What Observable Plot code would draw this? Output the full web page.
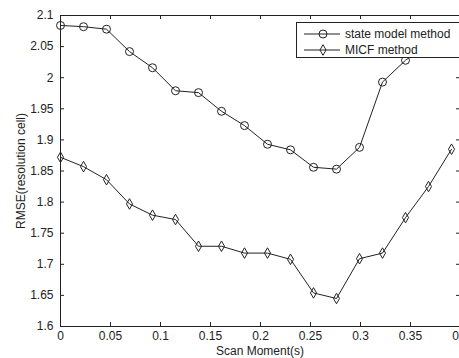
<!DOCTYPE html>
<html>
<head>
<meta charset="utf-8">
<script src="https://cdn.jsdelivr.net/npm/d3@7"></script>
<script src="https://cdn.jsdelivr.net/npm/@observablehq/plot@0.6"></script>
<style>
  html, body { margin: 0; padding: 0; background: white; overflow: hidden; }
  #wrap { position: relative; width: 459px; height: 358px; overflow: hidden; font-family: "Liberation Sans", Arial, sans-serif; }
  #legend { position: absolute; left: 296px; top: 22px; width: 170px; height: 36px; border: 1px solid #222; background: white; box-sizing: border-box; }
  #legend .row { position: absolute; left: 0; height: 16px; display: flex; align-items: center; }
  #legend span { font-size: 12px; color: #222; margin-left: 5px; }
</style>
</head>
<body>
<div id="wrap"></div>
<script>
const scanMoment = [0, 0.023, 0.046, 0.069, 0.092, 0.115, 0.138, 0.161, 0.184, 0.207, 0.23, 0.253, 0.276, 0.299, 0.322, 0.345, 0.368, 0.391];
const stateModel = [2.084, 2.082, 2.078, 2.042, 2.016, 1.979, 1.976, 1.946, 1.923, 1.893, 1.884, 1.856, 1.853, 1.888, 1.993, 2.028, 2.055, 2.080];
const micf = [1.872, 1.857, 1.836, 1.797, 1.779, 1.772, 1.729, 1.729, 1.718, 1.718, 1.708, 1.654, 1.645, 1.709, 1.718, 1.775, 1.825, 1.885];
const seriesNames = ["state model method", "MICF method"];
const xTicks = [0, 0.05, 0.1, 0.15, 0.2, 0.25, 0.3, 0.35, 0.4];
const yTicks = [1.6, 1.65, 1.7, 1.75, 1.8, 1.85, 1.9, 1.95, 2, 2.05, 2.1];
const xDomain = [0, 0.4];
const yDomain = [1.6, 2.1];

const sData = scanMoment.map((x, i) => ({x, y: stateModel[i]}));
const mData = scanMoment.map((x, i) => ({x, y: micf[i]}));
const fmt = d => String(+d.toFixed(2));
const ink = "#222";

const W = 459, H = 358, mL = 60, mT = 15, mB = 32;
const frameW = W - mL, frameH = H - mT - mB;
const tk = 4;
const diamondR = 3.2;

const chart = Plot.plot({
  width: W, height: H,
  marginLeft: mL, marginRight: 0, marginTop: mT, marginBottom: mB,
  style: {fontFamily: '"Liberation Sans", Arial, sans-serif', fontSize: "11px", color: ink, background: "white"},
  x: {domain: xDomain, range: [mL, mL + 400]},
  y: {domain: yDomain},
  marks: [
    Plot.axisX(xTicks, {tickSize: 0, tickPadding: 5, tickFormat: fmt, fontSize: 12, label: "Scan Moment(s)", labelAnchor: "center", labelOffset: 28, labelArrow: false}),
    Plot.axisY(yTicks, {tickSize: 0, tickPadding: 7, tickFormat: fmt, fontSize: 12, label: "RMSE(resolution cell)", labelAnchor: "center", labelOffset: 44, labelArrow: false}),
    Plot.tickX(xTicks, {x: d => d, insetTop: frameH - tk, stroke: ink}),
    Plot.tickX(xTicks, {x: d => d, insetBottom: frameH - tk, stroke: ink}),
    Plot.tickY(yTicks, {y: d => d, insetRight: frameW - tk, stroke: ink}),
    Plot.tickY(yTicks, {y: d => d, insetLeft: frameW - tk + 1, stroke: ink}),
    Plot.ruleY(yDomain, {stroke: ink}),
    Plot.ruleX(xDomain, {stroke: ink}),
    Plot.line(sData, {x: "x", y: "y", stroke: ink, strokeWidth: 1}),
    Plot.dot(sData, {x: "x", y: "y", r: 4, stroke: ink, fill: "none", symbol: "circle", strokeWidth: 1}),
    Plot.line(mData, {x: "x", y: "y", stroke: ink, strokeWidth: 1}),
    Plot.dot(mData, {x: "x", y: "y", r: diamondR, stroke: ink, fill: "none", symbol: "diamond", strokeWidth: 1})
  ]
});

const wrap = document.getElementById("wrap");
wrap.appendChild(chart);

// legend
const legend = document.createElement("div");
legend.id = "legend";
seriesNames.forEach((name, i) => {
  const row = document.createElement("div");
  row.className = "row";
  row.style.top = (3 + i * 16) + "px";
  const svg = d3.create("svg").attr("width", 43).attr("height", 16);
  svg.append("line").attr("x1", 7).attr("x2", 43).attr("y1", 8).attr("y2", 8).attr("stroke", ink);
  const sym = i === 0 ? d3.symbol(d3.symbolCircle, Math.PI * 16) : d3.symbol(d3.symbolDiamond, Math.PI * diamondR * diamondR);
  svg.append("path").attr("d", sym()).attr("transform", "translate(26,8)").attr("fill", "none").attr("stroke", ink);
  row.appendChild(svg.node());
  const t = document.createElement("span");
  t.textContent = name;
  row.appendChild(t);
  legend.appendChild(row);
});
wrap.appendChild(legend);
</script>
</body>
</html>
